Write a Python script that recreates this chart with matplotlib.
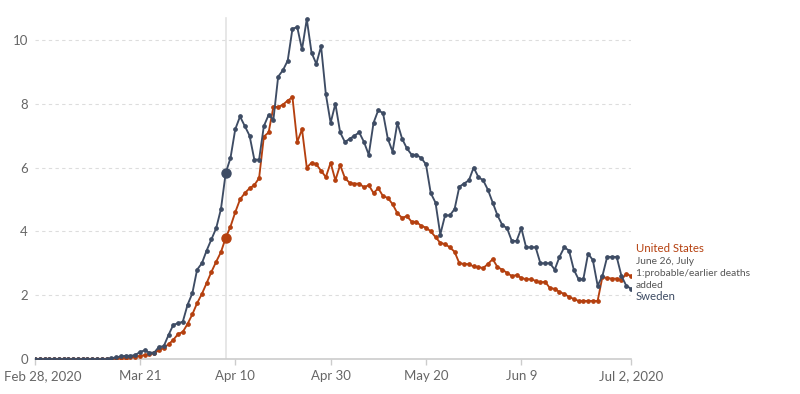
import numpy as np
import pandas as pd
import matplotlib.pyplot as plt
import matplotlib.dates as mdates
import matplotlib.transforms as mtransforms

plt.rcParams['font.family'] = ['Lato', 'DejaVu Sans']

# Daily deaths per million (7-day avg), Feb 28 -> Jul 2, 2020
start = "2020-02-28"
end = "2020-07-02"

sweden = [0] * 16 + [
    0.02, 0.05, 0.08, 0.1, 0.1, 0.12,
    0.22, 0.27, 0.2, 0.2, 0.38, 0.4, 0.75, 1.07, 1.12, 1.17,
    1.7, 2.06, 2.8, 3.0, 3.4, 3.75, 4.1, 4.7, 5.83, 6.3,
    7.2, 7.6, 7.3, 7.0, 6.25, 6.25, 7.3, 7.65, 7.5, 8.85,
    9.05, 9.35, 10.35, 10.4, 9.7, 10.65, 9.6, 9.25, 9.8, 8.3,
    7.4, 8.0, 7.1, 6.8, 6.9, 7.0, 7.1, 6.8, 6.4, 7.4,
    7.8, 7.7, 6.9, 6.5, 7.4, 6.9, 6.6, 6.4, 6.4, 6.3,
    6.1, 5.2, 4.9, 3.9, 4.5, 4.5, 4.7, 5.4, 5.5, 5.6,
    6.0, 5.7, 5.6, 5.3, 4.9, 4.5, 4.2, 4.1, 3.7, 3.7,
    4.1, 3.5, 3.5, 3.5, 3.0, 3.0, 3.0, 2.8, 3.2, 3.5,
    3.4, 2.8, 2.5, 2.5, 3.3, 3.1, 2.3, 2.6, 3.2, 3.2,
    3.2, 2.6, 2.3, 2.2,
]

us = [0] * 15 + [
    0.005, 0.01, 0.015, 0.02, 0.03, 0.05, 0.07,
    0.1, 0.12, 0.15, 0.19, 0.27, 0.35, 0.46, 0.6, 0.78, 0.85,
    1.1, 1.4, 1.75, 2.04, 2.38, 2.73, 3.05, 3.35, 3.8, 4.15,
    4.6, 5.0, 5.2, 5.35, 5.45, 5.67, 6.97, 7.1, 7.9, 7.9,
    7.97, 8.1, 8.2, 6.8, 7.2, 6.0, 6.15, 6.1, 5.9, 5.7,
    6.15, 5.6, 6.08, 5.67, 5.52, 5.49, 5.5, 5.38, 5.45, 5.2,
    5.35, 5.1, 5.05, 4.85, 4.57, 4.42, 4.48, 4.3, 4.3, 4.17,
    4.12, 4.0, 3.82, 3.64, 3.6, 3.5, 3.36, 3.0, 2.98, 2.97,
    2.9, 2.88, 2.85, 2.98, 3.13, 2.88, 2.8, 2.7, 2.6, 2.63,
    2.54, 2.5, 2.5, 2.45, 2.4, 2.42, 2.22, 2.2, 2.1, 2.04,
    1.95, 1.88, 1.82, 1.82, 1.82, 1.82, 1.82, 2.57, 2.54, 2.52,
    2.52, 2.48, 2.67, 2.6,
]

hover_date = "2020-04-08"
xtick_dates = ["2020-02-28", "2020-03-21", "2020-04-10", "2020-04-30",
               "2020-05-20", "2020-06-09", "2020-07-02"]
xtick_labels = ["Feb 28, 2020", "Mar 21", "Apr 10", "Apr 30",
                "May 20", "Jun 9", "Jul 2, 2020"]
yticks = [0, 2, 4, 6, 8, 10]

dates = pd.date_range(start, end, freq="D")
c_us = "#b5400f"
c_se = "#3e4c64"

fig = plt.figure(figsize=(8, 3.94), dpi=100)
ax = fig.add_axes([35 / 800, 35 / 394, 596 / 800, 351 / 394])

# hover line
hd = pd.Timestamp(hover_date)
ax.axvline(hd, ymax=0.972, color="#e3e3e3", lw=1.2, zorder=0)

ax.plot(dates, us, color=c_us, lw=1.35, marker="o", ms=2.4, zorder=3)
ax.plot(dates, sweden, color=c_se, lw=1.35, marker="o", ms=2.4, zorder=4)

i = list(dates).index(hd)
ax.plot(hd, us[i], "o", color=c_us, ms=6.5, zorder=5)
ax.plot(hd, sweden[i], "o", color=c_se, ms=6.5, zorder=5)

ax.set_xlim(dates[0], dates[-1])
ax.set_ylim(0, 11)

# grid
for y in yticks[1:]:
    ax.axhline(y, color="#dddddd", lw=0.8, ls=(0, (3, 3)), zorder=0)

ax.set_yticks(yticks)
ax.set_yticklabels([str(v) for v in yticks])
ax.tick_params(axis="y", length=0, pad=5, labelsize=9.5, labelcolor="#666666")

ax.set_xticks(pd.to_datetime(xtick_dates))
ax.set_xticklabels(xtick_labels)
ax.tick_params(axis="x", length=4, width=1, color="#cccccc", pad=4,
               labelsize=9.5, labelcolor="#666666")
# first label pushed right so it stays inside
lbl = ax.get_xticklabels()[0]
lbl.set_transform(lbl.get_transform() + mtransforms.ScaledTranslation(8 / 100, 0, fig.dpi_scale_trans))

for s in ["top", "right", "left"]:
    ax.spines[s].set_visible(False)
ax.spines["bottom"].set_color("#cccccc")
ax.spines["bottom"].set_linewidth(1.2)

# right-side labels
x0 = 636 / 800
fig.text(x0, (394 - 248) / 394, "United States", color=c_us, fontsize=8.2, va="center")
fig.text(x0, (394 - 261) / 394, "June 26, July", color="#555555", fontsize=7.4, va="center")
fig.text(x0, (394 - 273) / 394, "1:probable/earlier deaths", color="#555555", fontsize=7.4, va="center")
fig.text(x0, (394 - 285) / 394, "added", color="#555555", fontsize=7.4, va="center")
fig.text(x0, (394 - 297) / 394, "Sweden", color=c_se, fontsize=8.2, va="center")

fig.savefig("out.png", dpi=100)
